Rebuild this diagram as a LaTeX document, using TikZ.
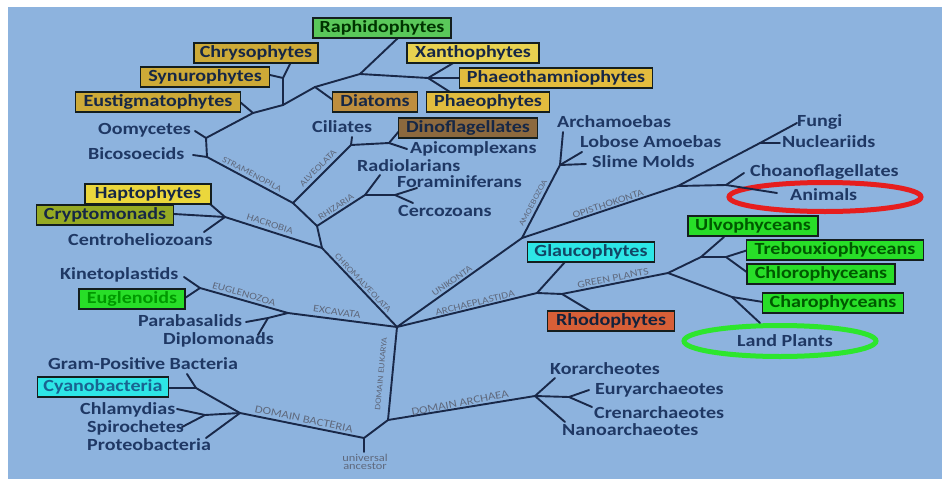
\documentclass[tikz,border=0pt]{standalone}
\usepackage{fontspec}
\usetikzlibrary{shapes.geometric}
\setmainfont{Carlito}[FakeStretch=1.18]
\begin{document}
\begin{tikzpicture}[x=1pt,y=-1pt,
  txt/.style={text=txtc,font=\bfseries\fontsize{17}{20}\selectfont,inner sep=0pt,anchor=west,text height=12pt,text depth=3pt},
  bx/.style={draw=boxb,line width=1.6pt,inner sep=0pt,minimum height=20pt,font=\bfseries\fontsize{17}{20}\selectfont,text height=12pt,text depth=3pt},
  clade/.style={text=cladec,font=\fontsize{#1}{10}\selectfont,inner sep=0pt},
  clade/.default=9,
  br/.style={draw=linec,line width=1.9pt,line cap=round,line join=round}]
\definecolor{bg}{RGB}{141,179,222}
\definecolor{txtc}{RGB}{31,56,100}
\definecolor{linec}{RGB}{25,40,72}
\definecolor{boxb}{RGB}{20,30,30}
\definecolor{cladec}{RGB}{95,105,125}
\definecolor{raphc}{RGB}{90,200,90}
\definecolor{mustc}{RGB}{205,170,55}
\definecolor{xanc}{RGB}{232,210,80}
\definecolor{phtc}{RGB}{226,188,62}
\definecolor{diac}{RGB}{190,142,62}
\definecolor{dinoc}{RGB}{140,105,62}
\definecolor{hapc}{RGB}{235,215,60}
\definecolor{cryc}{RGB}{150,170,35}
\definecolor{grc}{RGB}{40,222,40}
\definecolor{cyc}{RGB}{45,230,230}
\definecolor{cytx}{RGB}{25,100,145}
\definecolor{rhoc}{RGB}{215,95,55}
\definecolor{redc}{RGB}{230,30,30}
\definecolor{lgc}{RGB}{45,230,45}
\useasboundingbox (0,0) rectangle (942,479);
\fill[white] (0,0) rectangle (942,479);
\fill[bg] (8,7) rectangle (942,479);

% ---- coordinates of junctions and branch ends ----
\coordinate (R0) at (364,452); \coordinate (U) at (364,438);
\coordinate (B) at (240,413); \coordinate (G) at (196,388); \coordinate (GPe) at (187,374);
\coordinate (CYe) at (169,388); \coordinate (C) at (205,415); \coordinate (CHe) at (177,409);
\coordinate (SPe) at (182,427); \coordinate (PRe) at (206,438);
\coordinate (EA) at (388,420); \coordinate (E) at (397,327);
\coordinate (A) at (535,396); \coordinate (KOe) at (555,378); \coordinate (NAe) at (565,422);
\coordinate (A2) at (569,397); \coordinate (EUe) at (589,390); \coordinate (CRe) at (592,407);
\coordinate (X) at (288,313); \coordinate (EU) at (200,288); \coordinate (KIe) at (184,277);
\coordinate (EGLe) at (185,298); \coordinate (PD) at (268,318); \coordinate (PAe) at (246,322);
\coordinate (DIe) at (258,335);
\coordinate (CH) at (322,248); \coordinate (H) at (225,217); \coordinate (HAe) at (210,204);
\coordinate (CRYe) at (174,214); \coordinate (CEe) at (204,232);
\coordinate (S) at (317,226); \coordinate (SA) at (293,203); \coordinate (ST) at (207,157);
\coordinate (BIe) at (193,155); \coordinate (OO) at (206,138); \coordinate (OOe) at (195,131);
\coordinate (EG) at (253,113); \coordinate (EGe) at (240,102); \coordinate (CS) at (283,105);
\coordinate (SC) at (283,78); \coordinate (SYe) at (270,75); \coordinate (CHRe) at (291,62);
\coordinate (D1) at (315,87); \coordinate (DIAe) at (333,100); \coordinate (R1) at (360,74);
\coordinate (RAe) at (398,38); \coordinate (XP) at (428,78); \coordinate (XAe) at (455,62);
\coordinate (PTe) at (461,78); \coordinate (PHe) at (450,92);
\coordinate (AL) at (351,145); \coordinate (CIe) at (352,137); \coordinate (DA) at (389,143);
\coordinate (DINe) at (400,130); \coordinate (APe) at (407,149);
\coordinate (RZ) at (365,195); \coordinate (RADe) at (380,175); \coordinate (FC) at (395,195);
\coordinate (FOe) at (417,188); \coordinate (CEZe) at (413,203);
\coordinate (UN) at (522,238); \coordinate (AM) at (560,165); \coordinate (ARe) at (563,132);
\coordinate (LOe) at (582,152); \coordinate (SLe) at (586,164);
\coordinate (OP) at (678,186); \coordinate (FN) at (760,143); \coordinate (FUe) at (797,123);
\coordinate (NUe) at (780,143); \coordinate (CA) at (726,185); \coordinate (CHOe) at (744,173);
\coordinate (ANe) at (777,193);
\coordinate (AP) at (537,293); \coordinate (GLe) at (565,262); \coordinate (RG) at (562,294);
\coordinate (RHe) at (592,312); \coordinate (GN) at (668,273); \coordinate (UL) at (701,257);
\coordinate (ULe) at (724,237); \coordinate (TC) at (726,257); \coordinate (TRe) at (748,250);
\coordinate (CLe) at (748,273); \coordinate (CL) at (732,297); \coordinate (CHAe) at (763,302);
\coordinate (LPe) at (760,323);

% ---- ellipses ----
\node[draw=redc,line width=5pt,ellipse,minimum width=192pt,minimum height=29pt,inner sep=0pt] (anell) at (825,197) {};
\node[draw=lgc,line width=5pt,ellipse,minimum width=192pt,minimum height=31pt,inner sep=0pt] (lpell) at (780,341) {};

% ---- branches ----
\draw[br] (R0) -- (U);
\draw[br] (U) -- (B); \draw[br] (B) -- (G); \draw[br] (G) -- (GPe); \draw[br] (G) -- (CYe);
\draw[br] (B) -- (C); \draw[br] (C) -- (CHe); \draw[br] (C) -- (SPe); \draw[br] (B) -- (PRe);
\draw[br] (U) -- (EA); \draw[br] (EA) -- (E);
\draw[br] (EA) -- (A); \draw[br] (A) -- (KOe); \draw[br] (A) -- (NAe); \draw[br] (A) -- (A2);
\draw[br] (A2) -- (EUe); \draw[br] (A2) -- (CRe);
\draw[br] (E) -- (X); \draw[br] (X) -- (EU); \draw[br] (EU) -- (KIe); \draw[br] (EU) -- (EGLe);
\draw[br] (X) -- (PD); \draw[br] (PD) -- (PAe); \draw[br] (PD) -- (DIe);
\draw[br] (E) -- (CH); \draw[br] (CH) -- (H); \draw[br] (H) -- (HAe); \draw[br] (H) -- (CRYe); \draw[br] (H) -- (CEe);
\draw[br] (CH) -- (S); \draw[br] (S) -- (SA); \draw[br] (SA) -- (ST); \draw[br] (ST) -- (BIe);
\draw[br] (ST) -- (OO); \draw[br] (OO) -- (OOe); \draw[br] (OO) -- (EG); \draw[br] (EG) -- (EGe);
\draw[br] (EG) -- (CS); \draw[br] (CS) -- (SC); \draw[br] (SC) -- (SYe); \draw[br] (SC) -- (CHRe);
\draw[br] (CS) -- (D1); \draw[br] (D1) -- (DIAe); \draw[br] (D1) -- (R1); \draw[br] (R1) -- (RAe);
\draw[br] (R1) -- (XP); \draw[br] (XP) -- (XAe); \draw[br] (XP) -- (PTe); \draw[br] (XP) -- (PHe);
\draw[br] (SA) -- (AL); \draw[br] (AL) -- (CIe); \draw[br] (AL) -- (DA); \draw[br] (DA) -- (DINe); \draw[br] (DA) -- (APe);
\draw[br] (S) -- (RZ); \draw[br] (RZ) -- (RADe); \draw[br] (RZ) -- (FC); \draw[br] (FC) -- (FOe); \draw[br] (FC) -- (CEZe);
\draw[br] (E) -- (UN); \draw[br] (UN) -- (AM); \draw[br] (AM) -- (ARe); \draw[br] (AM) -- (LOe); \draw[br] (AM) -- (SLe);
\draw[br] (UN) -- (OP); \draw[br] (OP) -- (FN); \draw[br] (FN) -- (FUe); \draw[br] (FN) -- (NUe);
\draw[br] (OP) -- (CA); \draw[br] (CA) -- (CHOe); \draw[br] (CA) -- (ANe);
\draw[br] (E) -- (AP); \draw[br] (AP) -- (GLe); \draw[br] (AP) -- (RG); \draw[br] (RG) -- (RHe);
\draw[br] (RG) -- (GN); \draw[br] (GN) -- (UL); \draw[br] (UL) -- (ULe); \draw[br] (UL) -- (TC);
\draw[br] (TC) -- (TRe); \draw[br] (TC) -- (CLe); \draw[br] (GN) -- (CL); \draw[br] (CL) -- (CHAe); \draw[br] (CL) -- (LPe);

% ---- boxes ----
\node[bx,fill=raphc,text=black!80!green,minimum width=138pt] (raph) at (382,28) {Raphidophytes};
\node[bx,fill=mustc,text=txtc!70!black,minimum width=124pt] (chry) at (256,53) {Chrysophytes};
\node[bx,fill=mustc,text=txtc!70!black,minimum width=129pt] (synu) at (205,77) {Synurophytes};
\node[bx,fill=mustc,text=txtc!70!black,minimum width=165pt] (eust) at (158,102) {Eustigmatophytes};
\node[bx,fill=xanc,text=txtc!70!black,minimum width=132pt] (xant) at (473,53) {Xanthophytes};
\node[bx,fill=phtc,text=txtc!70!black,minimum width=193pt] (phth) at (556,78) {Phaeothamniophytes};
\node[bx,fill=diac,text=txtc!70!black,minimum width=85pt] (diat) at (375,102) {Diatoms};
\node[bx,fill=phtc,text=txtc!70!black,minimum width=123pt] (phae) at (488,102) {Phaeophytes};
\node[bx,fill=dinoc,text=txtc!70!black,minimum width=139pt] (dino) at (468,128) {Dinoflagellates};
\node[bx,fill=hapc,text=txtc!70!black,minimum width=126pt] (hapt) at (148,194) {Haptophytes};
\node[bx,fill=cryc,text=txtc!70!black,minimum width=137pt] (cryp) at (105,215) {Cryptomonads};
\node[bx,fill=grc,text=black!40!green,minimum width=106pt] (eugl) at (132,299) {Euglenoids};
\node[bx,fill=cyc,text=cytx,minimum width=131pt] (cyan) at (103,387) {Cyanobacteria};
\node[bx,fill=cyc,text=cytx!70!black,minimum width=127pt] (glau) at (591,252) {Glaucophytes};
\node[bx,fill=rhoc,text=txtc!60!black,minimum width=127pt] (rhod) at (611,321) {Rhodophytes};
\node[bx,fill=grc,text=black!65!green,minimum width=130pt] (ulvo) at (753,226) {Ulvophyceans};
\node[bx,fill=grc,text=black!65!green,minimum width=177pt] (treb) at (835,250) {Trebouxiophyceans};
\node[bx,fill=grc,text=black!65!green,minimum width=148pt] (chlo) at (821,274) {Chlorophyceans};
\node[bx,fill=grc,text=black!65!green,minimum width=141pt] (char) at (833,303) {Charophyceans};

% ---- plain labels ----
\node[txt] (oomy) at (98,130) {Oomycetes};
\node[txt] (bico) at (88,155) {Bicosoecids};
\node[txt] (cili) at (312,128) {Ciliates};
\node[txt] (apic) at (410,149) {Apicomplexans};
\node[txt] (radi) at (357,167) {Radiolarians};
\node[txt] (fora) at (397,183) {Foraminiferans};
\node[txt] (cerc) at (398,212) {Cercozoans};
\node[txt] (arch) at (557,123) {Archamoebas};
\node[txt] (lobo) at (580,143) {Lobose Amoebas};
\node[txt] (slim) at (592,163) {Slime Molds};
\node[txt] (fung) at (797,122) {Fungi};
\node[txt] (nucl) at (782,143) {Nucleariids};
\node[txt] (choa) at (750,172) {Choanoflagellates};
\node[txt] (anim) at (790,196) {Animals};
\node[txt] (land) at (737,342) {Land Plants};
\node[txt] (cent) at (68,241) {Centroheliozoans};
\node[txt] (kine) at (60,275) {Kinetoplastids};
\node[txt] (para) at (138,322) {Parabasalids};
\node[txt] (dipl) at (163,340) {Diplomonads};
\node[txt] (gram) at (48,365) {Gram-Positive Bacteria};
\node[txt] (chla) at (80,410) {Chlamydias};
\node[txt] (spir) at (87,428) {Spirochetes};
\node[txt] (prot) at (87,446) {Proteobacteria};
\node[txt] (kora) at (550,370) {Korarcheotes};
\node[txt] (eury) at (595,390) {Euryarchaeotes};
\node[txt] (cren) at (594,414) {Crenarchaeotes};
\node[txt] (nano) at (562,431) {Nanoarchaeotes};

% ---- clade labels ----
\node[clade=8.6,rotate=-28] (lstr) at (252,174) {STRAMENOPILA};
\node[clade=9,rotate=45] (lalv) at (318,168) {ALVEOLATA};
\node[clade=9,rotate=33] (lrhi) at (336,207) {RHIZARIA};
\node[clade=9.5,rotate=-17.5] (lhac) at (270,224) {HACROBIA};
\node[clade=8.5,rotate=-46.5] (lchr) at (363,283) {CHROMALVEOLATA};
\node[clade=9.8,rotate=-16] (leug) at (244,294) {EUGLENOZOA};
\node[clade=10,rotate=-8] (lexc) at (337,312) {EXCAVATA};
\node[clade=9.2,rotate=35.5] (luni) at (452,281) {UNIKONTA};
\node[clade=9.5,rotate=13.7] (larc) at (475,303) {ARCHAEPLASTIDA};
\node[clade=8,rotate=62] (lamo) at (533,203) {AMOEBOZOA};
\node[clade=9.8,rotate=18.4] (lopi) at (608,204) {OPISTHOKONTA};
\node[clade=10,rotate=11] (lgre) at (613,278) {GREEN PLANTS};
\node[clade=8.2,rotate=84.5] (leuk) at (381,374) {DOMAIN EUKARYA};
\node[clade=10.8,rotate=11] (larh) at (460,403) {DOMAIN ARCHAEA};
\node[clade=10.8,rotate=-12] (lbac) at (304,419) {DOMAIN BACTERIA};
\node[clade=10.5,align=center] (ua) at (365,462) {universal\\[-2pt]ancestor};
\end{tikzpicture}
\end{document}
